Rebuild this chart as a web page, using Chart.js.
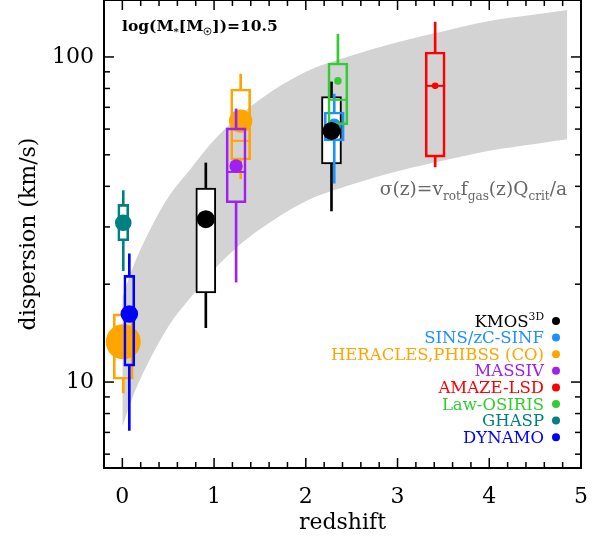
<!DOCTYPE html>
<html><head><meta charset="utf-8">
<script src="https://cdn.jsdelivr.net/npm/chart.js@4.4.0/dist/chart.umd.min.js"></script>
<style>html,body{margin:0;padding:0;background:#fff;}#wrap{width:608px;height:539px;}</style>
</head><body><div id="wrap"><canvas id="c" width="608" height="539" style="width:608px;height:539px"></canvas></div>
<script>
// ---------------- DATA ----------------
const surveyNames = ['KMOS3D','SINS/zC-SINF','HERACLES,PHIBSS (CO)','MASSIV','AMAZE-LSD','Law-OSIRIS','GHASP','DYNAMO'];
const surveyColors = ['#000000','#1E90FF','#FFA500','#A020F0','#FF0000','#32CD32','#008080','#0000FF'];

// one entry per plotted survey bin
const pointSurvey   = [0,    0,    1,    2,    2,    3,    4,     5,     6,    7];
const pointRedshift = [0.91, 2.28, 2.31, 0.01, 1.29, 1.24, 3.41,  2.35,  0.01, 0.076];
const pointSigma    = [31.7, 59.2, 61.5, 13.3, 63.5, 46.2, 81.5,  84.4,  30.9, 16.2];
const boxLow        = [18.8, 46.9, 55.2, 10.2, 48.2, 35.6, 49.2,  61.8,  27.2, 11.2];
const boxHigh       = [39.5, 75.5, 67.7, 16.2, 79.7, 60.5, 103.6, 95.8,  35.2, 21.3];
const whiskerLow    = [14.7, 33.6, 40.9, 9.26, 42.2, 20.3, 45.9,  61.8,  22.0, 7.1];
const whiskerHigh   = [47.2, 83.8, 76.9, 16.2, 88.6, 69.2, 128,   117.5, 38.8, 24.8];
const boxMedian     = [null, null, null, null, 55.2, 44.3, 81.5,  73.8,  null, null];

// model band sigma(z) = v_rot f_gas(z) Q_crit / a
const bandRedshift = [0, 0.1, 0.25, 0.5, 0.75, 1.0, 1.25, 1.5, 2.0, 2.5, 3.0, 3.5, 4.0, 4.5, 4.85];
const bandLow      = [7.27, 8.8, 11.0, 14.8, 18.3, 22.2, 26.0, 29.5, 36.0, 40.5, 44.5, 48.0, 51.5, 54.0, 55.8];
const bandHigh     = [18.2, 22.0, 27.5, 37.0, 45.5, 55.5, 65.0, 74.0, 90.0, 101, 111, 120, 129, 135, 139.5];

// axis ticks
const xMajorTicks = [0, 1, 2, 3, 4, 5];
const yTickValues = [6, 7, 8, 9, 10, 20, 30, 40, 50, 60, 70, 80, 90, 100];
const yLabelValues = [10, 100];

// ---------------- STYLE ----------------
const markerRadius = [9, 9, 7, 17.5, 11.7, 6.7, 3.3, 3.8, 8.3, 8.8];
const boxWidth     = [20, 20, 20, 20, 20, 20, 20, 20, 11, 11];
const FAM = '"DejaVu Serif", serif';

const datasets = [];
datasets.push({type:'line', data: bandRedshift.map((z,i)=>({x:z,y:bandHigh[i]})), fill:'+1',
  backgroundColor:'#d3d3d3', borderColor:'rgba(0,0,0,0)', borderWidth:0, pointRadius:0,
  cubicInterpolationMode:'monotone', order:1000});
datasets.push({type:'line', data: bandRedshift.map((z,i)=>({x:z,y:bandLow[i]})), fill:false,
  borderColor:'rgba(0,0,0,0)', borderWidth:0, pointRadius:0, cubicInterpolationMode:'monotone', order:999});

pointRedshift.forEach((z,i)=>{
  const s = pointSurvey[i], col = surveyColors[s];
  const base = s===0 ? 900 - i*5 : 800 - i*10;
  datasets.push({type:'bar', grouped:false, barThickness:2, backgroundColor:col, borderWidth:0,
    data:[{x:z,y:[whiskerLow[i],boxLow[i]]},{x:z,y:[boxHigh[i],whiskerHigh[i]]}], order:base});
  datasets.push({type:'bar', grouped:false, barThickness:boxWidth[i],
    backgroundColor: s===0 ? '#ffffff' : 'rgba(0,0,0,0)', borderColor:col, borderWidth:2, borderSkipped:false,
    data:[{x:z,y:[boxLow[i],boxHigh[i]]}], order:base-1});
  if (boxMedian[i] !== null) {
    datasets.push({type:'scatter', pointStyle:'line', pointRadius:boxWidth[i]/2, pointHoverRadius:boxWidth[i]/2,
      borderColor:col, borderWidth:2, data:[{x:z,y:boxMedian[i]}], order:base-2});
  }
  datasets.push({type:'scatter', pointStyle:'circle', pointRadius:markerRadius[i], pointHoverRadius:markerRadius[i],
    backgroundColor:col, borderWidth:0, data:[{x:z,y:pointSigma[i]}], order: s===0 ? 1 : base-3});
});

function drawRich(ctx, runs, x, y, align, size, color, weight){
  let total = 0;
  const items = runs.map(([t,k])=>{
    const sz = k==='n' ? size : size*0.65;
    const f = `${weight} ${sz}px ${FAM}`;
    ctx.font = f;
    const w = ctx.measureText(t).width;
    total += w;
    return {t,k,f,w};
  });
  let cx = align==='right' ? x-total : (align==='center' ? x-total/2 : x);
  ctx.fillStyle = color; ctx.textAlign='left'; ctx.textBaseline='alphabetic';
  items.forEach(r=>{
    ctx.font = r.f;
    const dy = r.k==='sub' ? size*0.28 : (r.k==='sup' ? -size*0.42 : 0);
    ctx.fillText(r.t, cx, y+dy);
    cx += r.w;
  });
}

const decorPlugin = {
  id:'decor',
  afterDatasetsDraw(chart){
    const {ctx, chartArea:a, scales:{x,y}} = chart;
    ctx.save();
    ctx.strokeStyle='#000'; ctx.lineWidth=1.5;
    const seg=(x1,y1,x2,y2)=>{ctx.beginPath();ctx.moveTo(x1,y1);ctx.lineTo(x2,y2);ctx.stroke();};
    x.ticks.forEach(t=>{
      const px = x.getPixelForValue(t.value);
      const major = xMajorTicks.some(m=>Math.abs(m-t.value)<1e-6);
      const len = major ? 10 : 6;
      seg(px,a.bottom,px,a.bottom-len); seg(px,a.top,px,a.top+len);
    });
    y.ticks.forEach(t=>{
      const py = y.getPixelForValue(t.value);
      const len = yLabelValues.includes(t.value) ? 10 : 6;
      seg(a.left,py,a.left+len,py); seg(a.right,py,a.right-len,py);
    });
    ctx.lineWidth=2;
    ctx.strokeRect(a.left,a.top,a.right-a.left,a.bottom-a.top);
    drawRich(ctx,[['log(M','n'],['*','sub'],['[M','n'],['☉','sub'],['])=10.5','n']],122,31,'left',15.5,'#000','bold');
    drawRich(ctx,[['σ(z)=v','n'],['rot','sub'],['f','n'],['gas','sub'],['(z)Q','n'],['crit','sub'],['/a','n']],567,195,'right',18.6,'#666','normal');
    const legendRuns = [[['KMOS','n'],['3D','sup']]].concat(surveyNames.slice(1).map(n=>[[n,'n']]));
    legendRuns.forEach((runs,k)=>{
      const by = 326.5 + k*16.6;
      drawRich(ctx,runs,544,by,'right',16.5,surveyColors[k],'normal');
      ctx.fillStyle=surveyColors[k];
      ctx.beginPath(); ctx.arc(556,by-5.5,4,0,Math.PI*2); ctx.fill();
    });
    ctx.restore();
  }
};

new Chart(document.getElementById('c'),{
  type:'scatter',
  data:{datasets},
  options:{
    responsive:false, animation:false, events:[],
    layout:{autoPadding:false, padding:{left:0,top:0,right:27,bottom:0}},
    plugins:{legend:{display:false}, tooltip:{enabled:false}},
    scales:{
      x:{type:'linear', min:-0.2, max:5.0, offset:false,
        afterFit:s=>{s.height=71; s.paddingLeft=0; s.paddingRight=0;},
        afterBuildTicks:s=>{const t=[];for(let i=0;i<=25;i++)t.push({value:i/5});s.ticks=t;},
        ticks:{autoSkip:false, maxRotation:0, padding:16, color:'#000', font:{family:FAM,size:22},
          callback:v=>xMajorTicks.some(m=>Math.abs(m-v)<1e-6)?String(Math.round(v)):''},
        grid:{display:false, drawTicks:false}, border:{display:false},
        title:{display:true, text:'redshift', color:'#000', font:{family:FAM,size:22}, padding:{top:0,bottom:3}}},
      y:{type:'logarithmic', min:5.44, max:149.7,
        afterFit:s=>{s.width=104; s.paddingTop=0; s.paddingBottom=0;},
        afterBuildTicks:s=>{s.ticks=yTickValues.map(v=>({value:v}));},
        ticks:{autoSkip:false, padding:10, color:'#000', font:{family:FAM,size:22},
          callback:v=>yLabelValues.includes(v)?String(v):''},
        grid:{display:false, drawTicks:false}, border:{display:false},
        title:{display:true, text:'dispersion (km/s)', color:'#000', font:{family:FAM,size:22}, padding:{top:16,bottom:0}}}
    }
  },
  plugins:[decorPlugin]
});
</script></body></html>
